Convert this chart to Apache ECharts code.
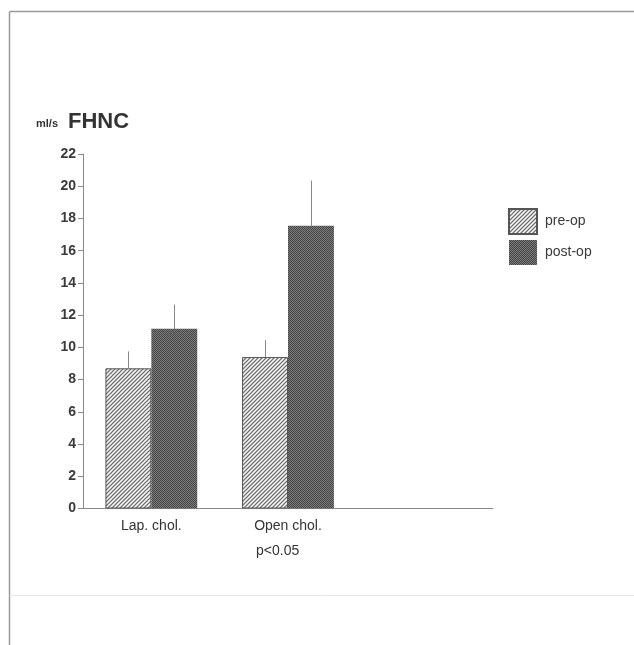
<!DOCTYPE html>
<html>
<head>
<meta charset="utf-8">
<script src="https://cdn.jsdelivr.net/npm/echarts@6/dist/echarts.min.js"></script>
<style>
html,body{margin:0;padding:0;background:#fff;}
#chart{width:634px;height:645px;}
</style>
</head>
<body>
<div id="chart"></div>
<script>
const categories = ['Lap. chol.', 'Open chol.', ''];
const preOp = [8.7, 9.4, null];
const preOpErr = [9.75, 10.45, null];
const postOp = [11.15, 17.55, null];
const postOpErr = [12.65, 20.35, null];
const yTicks = [0, 22, 2];
const seriesNames = ['pre-op', 'post-op'];

function hatch() {
  const c = document.createElement('canvas');
  c.width = 4; c.height = 4;
  const g = c.getContext('2d');
  g.fillStyle = '#fff'; g.fillRect(0, 0, 4, 4);
  g.strokeStyle = '#707070'; g.lineWidth = 1.3;
  g.beginPath();
  g.moveTo(-1, 5); g.lineTo(5, -1);
  g.moveTo(-1, 1); g.lineTo(1, -1);
  g.moveTo(3, 5); g.lineTo(5, 3);
  g.stroke();
  return c;
}
function checker() {
  const c = document.createElement('canvas');
  c.width = 2; c.height = 2;
  const g = c.getContext('2d');
  g.fillStyle = '#7c7c7c'; g.fillRect(0, 0, 2, 2);
  g.fillStyle = '#454545'; g.fillRect(0, 0, 1, 1); g.fillRect(1, 1, 1, 1);
  return c;
}
const preFill = { image: hatch(), repeat: 'repeat' };
const postFill = { image: checker(), repeat: 'repeat' };
const barFrac = 0.336;

function errItem(side) {
  return function (params, api) {
    const v = api.value(1), e = api.value(2);
    if (v == null || isNaN(v)) return;
    const w = api.size([1, 0])[0] * barFrac;
    const p0 = api.coord([api.value(0), v]);
    const p1 = api.coord([api.value(0), e]);
    const x = Math.round(p0[0] + side * w / 2) + 0.5;
    return {
      type: 'line',
      shape: { x1: x, y1: p0[1], x2: x, y2: p1[1] },
      style: { stroke: '#888', lineWidth: 1 }
    };
  };
}

const chart = echarts.init(document.getElementById('chart'));
chart.setOption({
  backgroundColor: '#fff',
  animation: false,
  grid: { left: 83, right: 141, top: 154, bottom: 136.5, containLabel: false },
  legend: {
    data: seriesNames,
    orient: 'vertical',
    left: 508, top: 208, padding: 0,
    icon: 'rect',
    itemWidth: 28, itemHeight: 25, itemGap: 5,
    textStyle: { fontFamily: 'Liberation Sans, Arial', fontSize: 14, color: '#3a3a3a', padding: [0, 0, 0, 3] }
  },
  xAxis: {
    type: 'category',
    data: categories,
    axisLine: { lineStyle: { color: '#8a8a8a', width: 1 } },
    axisTick: { alignWithLabel: true, length: 4, lineStyle: { color: '#8a8a8a' } },
    axisLabel: { fontFamily: 'Liberation Sans, Arial', fontSize: 14, color: '#333', margin: 11 }
  },
  yAxis: {
    type: 'value',
    min: yTicks[0], max: yTicks[1], interval: yTicks[2],
    splitLine: { show: false },
    axisLine: { show: true, lineStyle: { color: '#8a8a8a', width: 1 } },
    axisTick: { show: true, length: 5, lineStyle: { color: '#8a8a8a' } },
    axisLabel: { fontFamily: 'Liberation Sans, Arial', fontSize: 14, fontWeight: 'bold', color: '#3a3a3a', margin: 7 }
  },
  series: [
    {
      name: seriesNames[0], type: 'bar', data: preOp,
      barWidth: (barFrac * 100) + '%', barGap: '0%',
      itemStyle: { color: preFill, borderColor: '#555', borderWidth: 1 }
    },
    {
      name: seriesNames[1], type: 'bar', data: postOp,
      barWidth: (barFrac * 100) + '%', barGap: '0%',
      itemStyle: { color: postFill, borderColor: '#555', borderWidth: 0 }
    },
    {
      type: 'custom', renderItem: errItem(-1), z: 1,
      data: categories.map((c, i) => [i, preOp[i], preOpErr[i]])
    },
    {
      type: 'custom', renderItem: errItem(1), z: 1,
      data: categories.map((c, i) => [i, postOp[i], postOpErr[i]])
    }
  ],
  graphic: [
    { type: 'line', shape: { x1: 9.5, y1: 11.5, x2: 634, y2: 11.5 }, style: { stroke: '#999', lineWidth: 1.5 } },
    { type: 'line', shape: { x1: 9.5, y1: 11.5, x2: 9.5, y2: 645 }, style: { stroke: '#999', lineWidth: 1.5 } },
    { type: 'line', shape: { x1: 9.5, y1: 595.5, x2: 634, y2: 595.5 }, style: { stroke: '#e6e6e6', lineWidth: 1 } },
    { type: 'text', left: 36, top: 118, style: { text: 'ml/s', font: 'bold 11px "Liberation Sans", Arial', fill: '#333' } },
    { type: 'text', left: 68, top: 111, style: { text: 'FHNC', font: 'bold 22px "Liberation Sans", Arial', fill: '#333' } },
    { type: 'text', left: 256, top: 544, style: { text: 'p<0.05', font: '14px "Liberation Sans", Arial', fill: '#333' } }
  ]
});
</script>
</body>
</html>
